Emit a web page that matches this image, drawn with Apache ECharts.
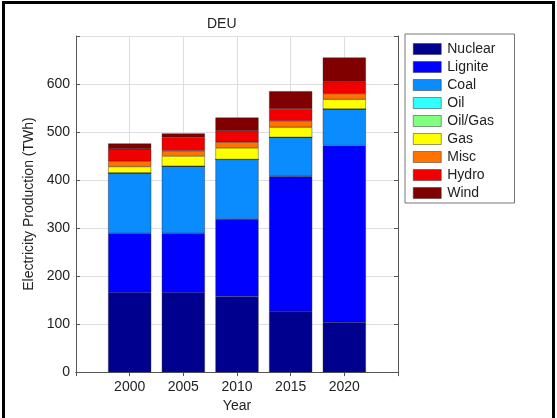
<!DOCTYPE html>
<html>
<head>
<meta charset="utf-8">
<script src="https://cdn.jsdelivr.net/npm/echarts@6/dist/echarts.min.js"></script>
<style>
  html, body { margin: 0; padding: 0; background: #fff; }
  #chart { width: 557px; height: 418px; }
</style>
</head>
<body>
<div id="chart"></div>
<script>
// Electricity production by source, Germany (TWh)
const years = [2000, 2005, 2010, 2015, 2020];
const axisYears = ['1995', '2000', '2005', '2010', '2015', '2020', '2025'];
const sources = ['Nuclear', 'Lignite', 'Coal', 'Oil', 'Oil/Gas', 'Gas', 'Misc', 'Hydro', 'Wind'];
const nuclear = [165, 165, 157, 127, 103];
const lignite = [124, 124, 162, 281, 369];
const coal    = [126, 140, 124, 81, 76];
const oil     = [0, 0, 0, 0, 0];
const oilGas  = [0, 0, 0, 0, 0];
const gas     = [13, 21, 24, 21, 20];
const misc    = [11, 11, 12, 13, 12];
const hydro   = [26, 28, 24, 25, 25];
const wind    = [11, 8, 27, 37, 50];
const yTicks  = [0, 100, 200, 300, 400, 500, 600];

const seriesValues = [nuclear, lignite, coal, oil, oilGas, gas, misc, hydro, wind];
const colors = ['#00008f', '#0000ff', '#0a8cff', '#30ffff', '#80ff80', '#ffff00', '#ff7400', '#f00000', '#800000'];

const font = 'Liberation Sans, Arial, sans-serif';
const chart = echarts.init(document.getElementById('chart'));

const series = sources.map((name, i) => ({
  name: name,
  type: 'bar',
  stack: 'total',
  barWidth: 43,
  xAxisIndex: 0,
  yAxisIndex: 0,
  itemStyle: { color: colors[i], borderColor: '#222', borderWidth: 0.4 },
  emphasis: { disabled: true },
  data: years.map((y, k) => [String(y), seriesValues[i][k]])
}));

const xCommon = {
  type: 'category', data: axisYears, boundaryGap: false
};
const yCommon = {
  type: 'value', min: 0, max: 700, interval: 100
};

chart.setOption({
  animation: false,
  backgroundColor: '#fff',
  title: {
    text: 'DEU', left: 202, top: 12,
    textStyle: { fontFamily: font, fontSize: 14, fontWeight: 'normal', color: '#222' }
  },
  legend: {
    orient: 'vertical', left: 405, top: 34,
    padding: [8, 19, 3, 8],
    itemWidth: 28, itemHeight: 11, itemGap: 4,
    borderColor: '#777', borderWidth: 1, borderRadius: 0,
    backgroundColor: '#fff',
    icon: 'rect',
    itemStyle: { borderColor: '#333', borderWidth: 0.5 },
    textStyle: { fontFamily: font, fontSize: 14, color: '#222', lineHeight: 14, padding: [0, 0, 0, 1] },
    data: sources
  },
  grid: { left: 76, top: 36, width: 322, height: 338, show: false },
  xAxis: [
    Object.assign({}, xCommon, {
      position: 'bottom',
      name: 'Year', nameLocation: 'middle', nameGap: 24,
      nameTextStyle: { fontFamily: font, fontSize: 14, color: '#222' },
      axisLine: { show: true, lineStyle: { color: '#555', width: 1 } },
      axisTick: { show: true, inside: true, length: 4, lineStyle: { color: '#555' } },
      axisLabel: {
        margin: 8, fontFamily: font, fontSize: 14, color: '#222', interval: 0,
        formatter: v => (years.indexOf(Number(v)) >= 0 ? v : '')
      },
      splitLine: { show: true, interval: 0, lineStyle: { color: '#dedede', width: 1 } }
    }),
    Object.assign({}, xCommon, {
      position: 'top',
      axisLine: { show: true, lineStyle: { color: '#555', width: 1 } },
      axisTick: { show: true, inside: true, length: 4, interval: 0, lineStyle: { color: '#555' } },
      axisLabel: { show: false },
      splitLine: { show: false }
    })
  ],
  yAxis: [
    Object.assign({}, yCommon, {
      position: 'left',
      name: 'Electricity Production (TWh)', nameLocation: 'middle', nameGap: 31,
      nameTextStyle: { fontFamily: font, fontSize: 14, color: '#222' },
      axisLine: { show: true, lineStyle: { color: '#555', width: 1 } },
      axisTick: { show: true, inside: true, length: 4, lineStyle: { color: '#555' } },
      axisLabel: {
        margin: 6, fontFamily: font, fontSize: 14, color: '#222',
        formatter: v => (yTicks.indexOf(v) >= 0 ? String(v) : '')
      },
      splitLine: { show: true, lineStyle: { color: '#dedede', width: 1 } }
    }),
    Object.assign({}, yCommon, {
      position: 'right',
      axisLine: { show: true, lineStyle: { color: '#555', width: 1 } },
      axisTick: { show: true, inside: true, length: 4, lineStyle: { color: '#555' } },
      axisLabel: { show: false },
      splitLine: { show: false }
    })
  ],
  graphic: [{
    type: 'polyline',
    silent: true,
    shape: { points: [[3.5, 418], [3.5, 2.5], [553.5, 2.5], [553.5, 418]] },
    style: { stroke: '#000', lineWidth: 3, fill: null }
  }],
  series: series
});
</script>
</body>
</html>
